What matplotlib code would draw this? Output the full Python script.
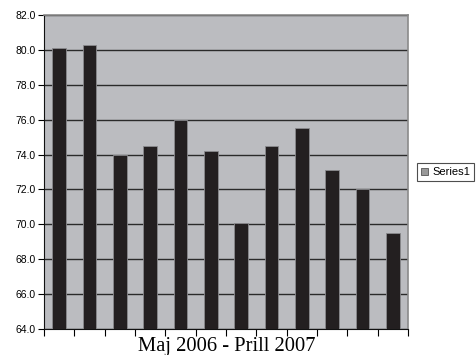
import numpy as np
import matplotlib.pyplot as plt

# monthly values, May 2006 - April 2007
months = ['Maj', 'Qer', 'Kor', 'Gus', 'Sht', 'Tet', 'Nen', 'Dhj', 'Jan', 'Shk', 'Mar', 'Pri']
values = [80.1, 80.3, 74.0, 74.5, 76.0, 74.2, 70.1, 74.5, 75.5, 73.1, 72.0, 69.5]
y_ticks = np.arange(64, 82.1, 2)

plt.rcParams['font.family'] = ['Liberation Sans', 'DejaVu Sans']

fig = plt.figure(figsize=(4.77, 3.55), dpi=100)
ax = fig.add_axes([44 / 477, 1 - 329 / 355, 364 / 477, 314 / 355])
ax.set_facecolor('#bbbcc0')

x = np.arange(len(values))
ax.bar(x, values, width=0.45, bottom=0, color='#231f20',
       edgecolor='#8a8a8e', linewidth=0.6, label='Series1', zorder=3)

ax.set_ylim(64, 82)
ax.set_xlim(-0.5, len(values) - 0.5)
ax.set_yticks(y_ticks)
ax.set_yticklabels(['%.1f' % v for v in y_ticks], fontsize=7.5)
ax.yaxis.grid(True, color='#2a2a2a', linewidth=1.0, zorder=1)

# category ticks sit between the bars, no labels
ax.set_xticks(np.arange(-0.5, len(values), 1.0))
ax.set_xticklabels([])
ax.tick_params(axis='x', direction='out', length=5, width=0.8)
ax.tick_params(axis='y', direction='out', length=4, width=0.8, pad=2)

for side in ('left', 'bottom'):
    ax.spines[side].set_color('#111111')
for side in ('top', 'right'):
    ax.spines[side].set_color('#8a8a8a')
    ax.spines[side].set_linewidth(1.2)

# axis title placed by hand near the lower edge
fig.text(226.5 / 477, 4 / 355, 'Maj 2006 - Prill 2007', family='Liberation Serif',
         fontsize=14.8, ha='center', va='baseline')

leg = ax.legend(loc='center left', bbox_to_anchor=(1.025, 0.5), fontsize=8,
                frameon=True, fancybox=False, edgecolor='#222222',
                handlelength=0.6, handleheight=0.6, handletextpad=0.4,
                borderpad=0.35, borderaxespad=0)
leg.get_frame().set_linewidth(0.8)
leg.legend_handles[0].set_edgecolor('#555555')
leg.legend_handles[0].set_facecolor('#999999')

fig.savefig('out.png', dpi=100)
